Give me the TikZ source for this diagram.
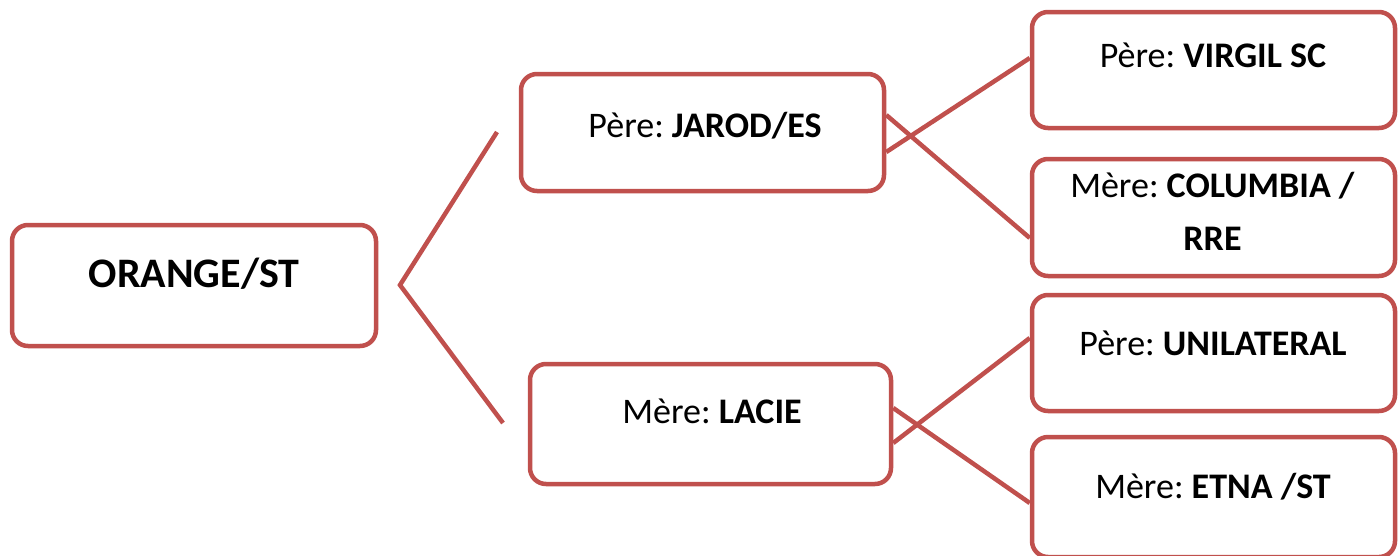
\documentclass[tikz,border=0pt]{standalone}
\usepackage{fontspec}
\setmainfont{Carlito}
\usetikzlibrary{calc}
\definecolor{boxred}{HTML}{C0504D}
\frenchspacing
\begin{document}
\begin{tikzpicture}[x=1pt,y=-1pt,
  box/.style={draw=boxred, line width=4.5pt, rounded corners=16pt, inner sep=0pt, fill=white},
  conn/.style={draw=boxred, line width=4.5pt},
  lbl/.style={font=\fontsize{36}{44}\selectfont, inner sep=0pt, anchor=base},
  biglbl/.style={font=\fontsize{42}{50}\selectfont\bfseries, inner sep=0pt, anchor=base}]
\useasboundingbox (0,0) rectangle (1400,555);
\clip (0,0) rectangle (1400,555);
% boxes
\node[box, minimum width=364pt, minimum height=121pt] (orange) at (194,285.5) {};
\node[box, minimum width=363pt, minimum height=117pt] (jarod) at (702.5,132.5) {};
\node[box, minimum width=361pt, minimum height=120pt] (lacie) at (710.5,424) {};
\node[box, minimum width=363pt, minimum height=116pt] (virgil) at (1213.5,70) {};
\node[box, minimum width=363pt, minimum height=117pt] (columbia) at (1213.5,217.5) {};
\node[box, minimum width=363pt, minimum height=116pt] (unilateral) at (1213.5,353) {};
\node[box, minimum width=363pt, minimum height=120pt] (etna) at (1213.5,497) {};
% texts
\node[biglbl] (torange) at (194,287) {ORANGE/ST};
\node[lbl] (tjarod) at (705,137) {Père: \textbf{JAROD/ES}};
\node[lbl] (tlacie) at (712,423) {Mère: \textbf{LACIE}};
\node[lbl] (tvirgil) at (1213,67) {Père: \textbf{VIRGIL SC}};
\node[lbl] (tcolumbia) at (1212.5,197) {Mère: \textbf{COLUMBIA /}};
\node[lbl] (tcolumbiab) at (1212.5,250) {\textbf{RRE}};
\node[lbl] (tunilateral) at (1213,355) {Père: \textbf{UNILATERAL}};
\node[lbl] (tetna) at (1213,498) {Mère: \textbf{ETNA /ST}};
% connectors
\coordinate (fork) at (400,285);
\coordinate (forkup) at (497,132);
\coordinate (forkdown) at (503,423);
\draw[conn] (forkup) -- (fork) -- (forkdown);
\draw[conn] (jarod.east |- 0,152) -- (virgil.west |- 0,58);
\draw[conn] (jarod.east |- 0,115) -- (columbia.west |- 0,238);
\draw[conn] (lacie.east |- 0,443) -- (unilateral.west |- 0,338);
\draw[conn] (lacie.east |- 0,408) -- (etna.west |- 0,503);
\end{tikzpicture}
\end{document}
